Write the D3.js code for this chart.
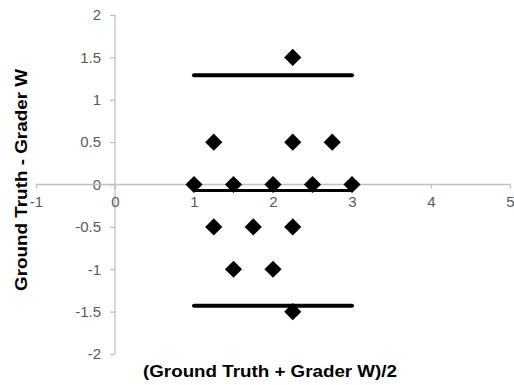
<!DOCTYPE html>
<html><head><meta charset="utf-8">
<script src="https://cdn.jsdelivr.net/npm/d3@7"></script>
<style>body{margin:0;background:#fff}svg{display:block}</style>
</head><body>
<script>
// Data
const xValues = [2.25, 1.25, 2.25, 2.75, 1.0, 1.5, 2.0, 2.5, 3.0, 1.25, 1.75, 2.25, 1.5, 2.0, 2.25];
const yValues = [1.5, 0.5, 0.5, 0.5, 0, 0, 0, 0, 0, -0.5, -0.5, -0.5, -1, -1, -1.5];
const limitNames = ["upper", "mean", "lower"];
const limitValues = [1.29, -0.07, -1.43];
const limitXRange = [1, 3];
const xTicks = [-1, 0, 1, 2, 3, 4, 5];
const yTicks = [-2, -1.5, -1, -0.5, 0, 0.5, 1, 1.5, 2];
const xTitle = "(Ground Truth + Grader W)/2";
const yTitle = "Ground Truth - Grader W";

const W = 514, H = 385;
const svg = d3.select("body").append("svg").attr("width", W).attr("height", H);
const x = d3.scaleLinear().domain([-1, 5]).range([36, 510]);
const y = d3.scaleLinear().domain([-2, 2]).range([354, 15]);
const axisColor = "#c0c0c0", textColor = "#595959";
const font = "Liberation Sans, Arial, sans-serif";
const fmt = d => String(d);

// Y axis at x=0
const yAxis = svg.append("g").attr("transform", `translate(${x(0)},0)`)
  .call(d3.axisLeft(y).tickValues(yTicks).tickSize(5).tickPadding(9).tickFormat(fmt));
// X axis at y=0
const xAxis = svg.append("g").attr("transform", `translate(0,${y(0)})`)
  .call(d3.axisBottom(x).tickValues(xTicks).tickSize(4).tickPadding(12).tickFormat(fmt));
[xAxis, yAxis].forEach(g => {
  g.select(".domain").attr("stroke", axisColor).attr("stroke-width", 1.3);
  g.selectAll(".tick line").attr("stroke", axisColor).attr("stroke-width", 1.3);
  g.selectAll(".tick text").attr("fill", textColor).attr("font-size", 15).attr("font-family", font);
});
yAxis.select(".domain").attr("d", `M0,${y(2)}V${y(-2)}`);
xAxis.select(".domain").attr("d", `M${x(-1)},0H${x(5)}`);
xAxis.selectAll(".tick text").attr("dy", "0.45em");

// limit lines
svg.append("g").selectAll("line").data(limitValues).join("line")
  .attr("x1", x(limitXRange[0])).attr("x2", x(limitXRange[1]))
  .attr("y1", d => y(d)).attr("y2", d => y(d))
  .attr("stroke", "#000").attr("stroke-width", (d, i) => limitNames[i] === "mean" ? 3 : 4)
  .attr("stroke-linecap", "round");

// points
const sym = d3.symbol().type(d3.symbolSquare).size(148);
svg.append("g").selectAll("path").data(xValues.map((v, i) => [v, yValues[i]])).join("path")
  .attr("d", sym)
  .attr("transform", d => `translate(${x(d[0])},${y(d[1])}) rotate(45)`)
  .attr("fill", "#000");

// titles
svg.append("text").attr("x", 270).attr("y", 377).attr("text-anchor", "middle")
  .attr("font-family", font).attr("font-weight", "bold").attr("font-size", 16).attr("fill", "#000")
  .attr("textLength", 254).attr("lengthAdjust", "spacingAndGlyphs")
  .text(xTitle);
svg.append("text").attr("transform", `translate(27,180) rotate(-90)`).attr("text-anchor", "middle")
  .attr("font-family", font).attr("font-weight", "bold").attr("font-size", 16).attr("fill", "#000")
  .attr("textLength", 222).attr("lengthAdjust", "spacingAndGlyphs")
  .text(yTitle);
</script>
</body></html>
